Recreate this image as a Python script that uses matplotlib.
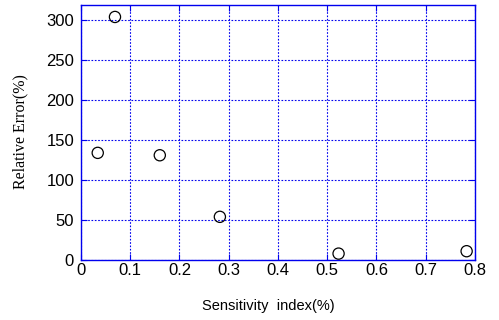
import matplotlib
matplotlib.use("Agg")
import matplotlib.pyplot as plt

# sensitivity index vs relative error
sens_index = [0.034, 0.069, 0.160, 0.282, 0.523, 0.783]
rel_error = [134, 304, 131, 54, 8, 11]

x_ticks = [0, 0.1, 0.2, 0.3, 0.4, 0.5, 0.6, 0.7, 0.8]
y_ticks = [0, 50, 100, 150, 200, 250, 300]

BLUE = "#0000ee"

fig = plt.figure(figsize=(4.99, 3.2), dpi=100)
ax = fig.add_axes([0.1623, 0.1875, 0.7896, 0.797])

ax.scatter(sens_index, rel_error, s=65, facecolors="none", edgecolors="black",
           linewidths=0.9, zorder=3, clip_on=False)

ax.set_xlim(0, 0.8)
ax.set_ylim(0, 319)
ax.set_xticks(x_ticks)
ax.set_xticklabels(["0", "0.1", "0.2", "0.3", "0.4", "0.5", "0.6", "0.7", "0.8"])
ax.set_yticks(y_ticks)

ax.grid(True, color=BLUE, linestyle=(0, (1.5, 1.5)), linewidth=0.8)
for sp in ax.spines.values():
    sp.set_color(BLUE)
    sp.set_linewidth(1.0)
ax.tick_params(direction="in", length=4, color=BLUE, top=True, right=True,
               labelsize=12)
ax.tick_params(axis="x", pad=2)
ax.tick_params(axis="y", pad=5)
for lab in ax.get_xticklabels() + ax.get_yticklabels():
    lab.set_family("Liberation Sans")

fig.text(0.537, 0.045, "Sensitivity  index(%)", ha="center", va="center",
         fontsize=10.5, family="Liberation Sans")
fig.text(0.04, 0.59, "Relative Error(%)", ha="center", va="center",
         rotation=90, fontsize=11.5, family="Liberation Serif")

fig.savefig("out.png", dpi=100)
